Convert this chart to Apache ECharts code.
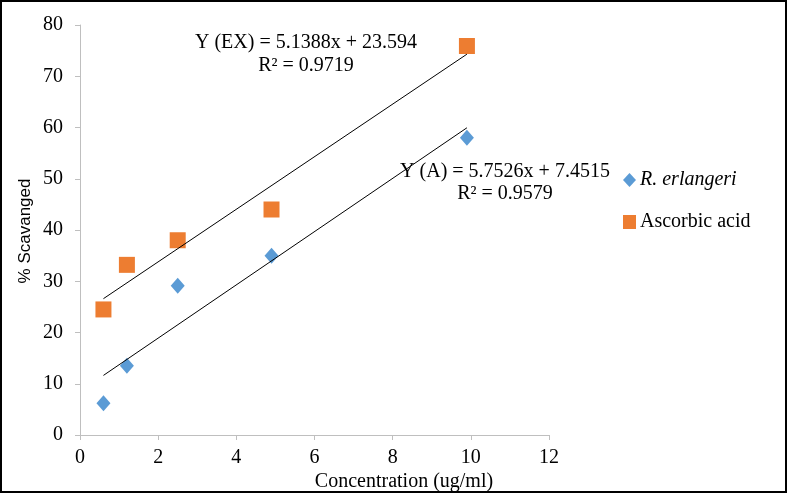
<!DOCTYPE html>
<html><head><meta charset="utf-8">
<script src="https://cdn.jsdelivr.net/npm/echarts@6/dist/echarts.min.js"></script>
<style>html,body{margin:0;padding:0;background:#fff}#c{width:787px;height:493px}</style>
</head><body><div id="c"></div>
<script>
const concentrations = [0.6, 1.2, 2.5, 4.9, 9.9];
const erlangeriValues = [6.2, 13.5, 29.1, 35.0, 58.0];
const ascorbicValues = [24.5, 33.2, 38.0, 44.0, 75.9];
const xTicks = [0, 2, 4, 6, 8, 10, 12];
const yTicks = [0, 10, 20, 30, 40, 50, 60, 70, 80];
const seriesNames = ['R. erlangeri', 'Ascorbic acid'];
const eqEX = ['Y (EX) = 5.1388x + 23.594', 'R² = 0.9719'];
const eqA = ['Y (A) = 5.7526x + 7.4515', 'R² = 0.9579'];
const xTitle = 'Concentration (ug/ml)';
const yTitle = '% Scavanged';

function fit(xs, ys) {
  const n = xs.length;
  const mx = xs.reduce((a, b) => a + b, 0) / n;
  const my = ys.reduce((a, b) => a + b, 0) / n;
  let sxy = 0, sxx = 0;
  for (let i = 0; i < n; i++) { sxy += (xs[i] - mx) * (ys[i] - my); sxx += (xs[i] - mx) ** 2; }
  const k = sxy / sxx, b = my - k * mx;
  const x0 = Math.min(...xs), x1 = Math.max(...xs);
  return [[x0, k * x0 + b], [x1, k * x1 + b]];
}
const pairs = (xs, ys) => xs.map((x, i) => [x, ys[i]]);

const font = '"Liberation Serif", "Times New Roman", serif';
const sans = '"Liberation Sans", Arial, sans-serif';
const axisGray = '#bfbfbf';
const chart = echarts.init(document.getElementById('c'), null, {renderer: 'canvas'});
const txt = (x, y, text, extra) => Object.assign({type: 'text', x: x, y: y, z: 5,
  style: {text: text, font: '20px ' + font, fill: '#000', textAlign: 'center', textVerticalAlign: 'middle'}}, extra || {});
chart.setOption({
  animation: false,
  backgroundColor: '#fff',
  textStyle: {fontFamily: font},
  grid: {left: 80, right: 238, top: 25, bottom: 58, containLabel: false},
  xAxis: {
    type: 'value', min: xTicks[0], max: xTicks[xTicks.length - 1], interval: 2,
    axisLine: {show: true, lineStyle: {color: axisGray, width: 1}},
    axisTick: {show: true, length: 5, lineStyle: {color: axisGray}},
    splitLine: {show: false},
    axisLabel: {color: '#000', fontSize: 20, fontFamily: font, margin: 13}
  },
  yAxis: {
    type: 'value', min: yTicks[0], max: yTicks[yTicks.length - 1], interval: 10,
    axisLine: {show: true, lineStyle: {color: axisGray, width: 1}},
    axisTick: {show: true, length: 5, lineStyle: {color: axisGray}},
    splitLine: {show: false},
    axisLabel: {color: '#000', fontSize: 20, fontFamily: font, margin: 17}
  },
  legend: {
    orient: 'vertical', left: 618, top: 165, itemGap: 22, itemWidth: 13, itemHeight: 14,
    textStyle: {color: '#000', fontSize: 20, fontFamily: font, padding: [0, 0, 0, -1]},
    data: [
      {name: seriesNames[0], icon: 'diamond', textStyle: {fontStyle: 'italic'}},
      {name: seriesNames[1], icon: 'rect'}
    ]
  },
  series: [
    {name: seriesNames[0], type: 'scatter', symbol: 'diamond', symbolSize: [14, 16],
     itemStyle: {color: '#5b9bd5', opacity: 1}, data: pairs(concentrations, erlangeriValues), z: 3},
    {name: seriesNames[1], type: 'scatter', symbol: 'rect', symbolSize: 16,
     itemStyle: {color: '#ed7d31', opacity: 1}, data: pairs(concentrations, ascorbicValues), z: 3},
    {type: 'line', data: fit(concentrations, erlangeriValues), symbol: 'none',
     lineStyle: {color: '#000', width: 1}, z: 4, silent: true},
    {type: 'line', data: fit(concentrations, ascorbicValues), symbol: 'none',
     lineStyle: {color: '#000', width: 1}, z: 4, silent: true}
  ],
  graphic: [
    txt(306, 43, eqEX[0]),
    txt(306, 66, eqEX[1]),
    txt(505, 172, eqA[0]),
    txt(505, 194, eqA[1]),
    txt(404, 482, xTitle),
    {type: 'text', x: 25, y: 231, rotation: Math.PI / 2,
     style: {text: yTitle, font: '17px ' + sans, fill: '#000', textAlign: 'center', textVerticalAlign: 'middle'}},
    {type: 'rect', shape: {x: 1, y: 1, width: 785, height: 491}, style: {fill: 'none', stroke: '#000', lineWidth: 2}, z: 100}
  ]
});
</script></body></html>
